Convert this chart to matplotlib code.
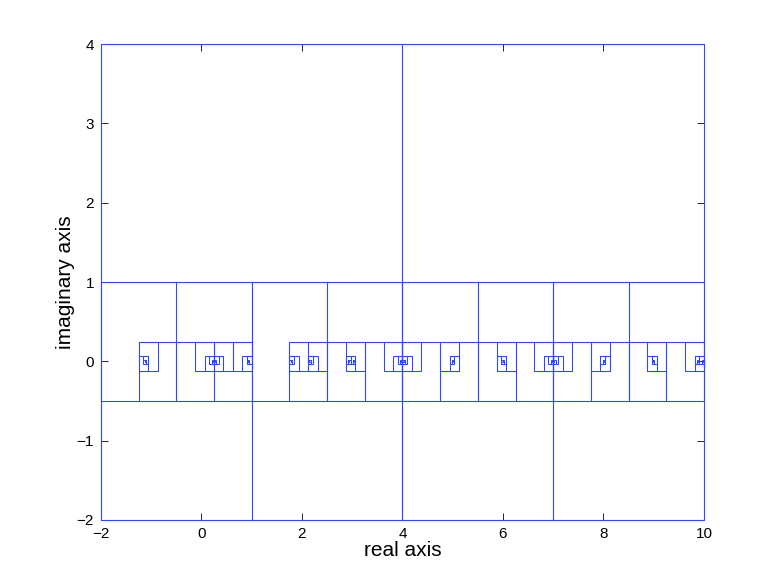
import matplotlib
matplotlib.use('Agg')
import matplotlib.pyplot as plt
from matplotlib.patches import Rectangle

# zeros located on the real axis
ZEROS_RE = [-1.13, 0.25, 0.92, 1.79, 2.15, 2.94, 3.02, 4.0, 4.99, 5.99, 7.0, 7.99, 8.99, 9.9, 9.98]
ZEROS_IM = [0.0] * len(ZEROS_RE)

REGION = (-2.0, -2.0, 12.0, 6.0)   # x0, y0, width, height
MIN_SIZE = 0.04

XTICKS = [-2, 0, 2, 4, 6, 8, 10]
YTICKS = [-2, -1, 0, 1, 2, 3, 4]

plt.rcParams['font.family'] = ['Liberation Sans', 'DejaVu Sans']

fig = plt.figure(figsize=(7.78, 5.84), dpi=100)
ax = fig.add_axes([0.1298, 0.1096, 0.775, 0.815])


def has_zero(x0, y0, w, h):
    for zr, zi in zip(ZEROS_RE, ZEROS_IM):
        if x0 <= zr <= x0 + w and y0 <= zi <= y0 + h:
            return True
    return False


def refine(x0, y0, w, h):
    ax.add_patch(Rectangle((x0, y0), w, h, fill=False, edgecolor='#2d48ff',
                           linewidth=0.75, zorder=3, clip_on=False))
    if min(w, h) <= MIN_SIZE:
        return
    if w > h:
        # split the long rectangle into two squares
        kids = [(x0, y0, w / 2, h), (x0 + w / 2, y0, w / 2, h)]
    else:
        kids = [(x0 + i * w / 2, y0 + j * h / 2, w / 2, h / 2)
                for j in range(2) for i in range(2)]
    for k in kids:
        if has_zero(*k):
            refine(*k)


refine(*REGION)

ax.set_xlim(-2, 10)
ax.set_ylim(-2, 4)
ax.set_xticks(XTICKS)
ax.set_yticks(YTICKS)
ax.tick_params(direction='in', top=True, right=True, length=5, width=0.6,
               labelsize=11, pad=5)
for s in ax.spines.values():
    s.set_linewidth(0.6)
ax.set_xlabel('real axis', fontsize=15, labelpad=0)
ax.set_ylabel('imaginary axis', fontsize=15, labelpad=1)

fig.savefig('out.png', dpi=100)
